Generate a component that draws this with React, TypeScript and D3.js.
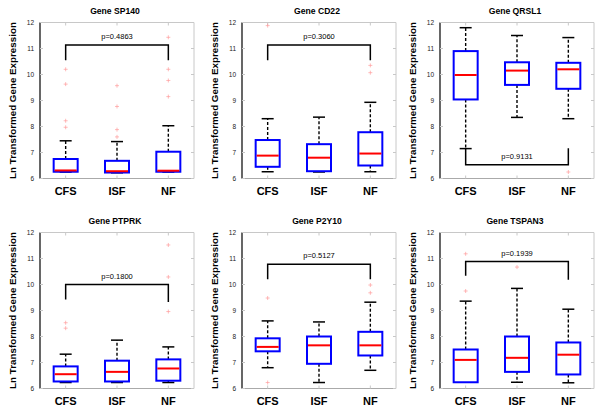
import React from "react";
import * as d3 from "d3";

// ---- data ----
const groups = ["CFS", "ISF", "NF"];
const genes = ["SP140", "CD22", "QRSL1", "PTPRK", "P2Y10", "TSPAN3"];
const yTicks = [6, 7, 8, 9, 10, 11, 12];

// [min, q1, median, q3, max] per group
const sp140Stats = [[6.25, 6.26, 6.31, 6.75, 7.45], [6.22, 6.23, 6.28, 6.68, 7.42], [6.25, 6.26, 6.3, 7.03, 8.03]];
const sp140Outliers = [[10.2, 9.63, 8.22, 7.97], [9.57, 8.77, 7.88, 7.6], [11.43, 10.2, 9.77, 9.15]];
const cd22Stats = [[6.26, 6.45, 6.88, 7.48, 8.3], [6.25, 6.28, 6.8, 7.32, 8.36], [6.26, 6.5, 6.96, 7.78, 8.93]];
const cd22Outliers = [[11.88], [], [10.35, 10.07]];
const qrsl1Stats = [[7.15, 9.04, 9.98, 10.9, 11.8], [8.35, 9.6, 10.15, 10.47, 11.5], [8.3, 9.45, 10.2, 10.45, 11.42]];
const qrsl1Outliers = [[], [], [6.25]];
const ptprkStats = [[6.23, 6.27, 6.55, 6.85, 7.32], [6.23, 6.27, 6.64, 7.07, 7.86], [6.23, 6.3, 6.77, 7.12, 7.6]];
const ptprkOutliers = [[8.53, 8.32], [], [11.52, 10.29, 8.96]];
const p2y10Stats = [[6.8, 7.43, 7.6, 7.93, 8.6], [6.23, 6.95, 7.66, 8.0, 8.56], [6.7, 7.27, 7.66, 8.18, 9.32]];
const p2y10Outliers = [[9.48, 6.23], [], [9.98, 9.68]];
const tspan3Stats = [[6.24, 6.24, 7.1, 7.5, 9.36], [6.24, 6.64, 7.18, 8.0, 9.85], [6.22, 6.54, 7.3, 7.77, 9.05]];
const tspan3Outliers = [[11.18, 9.75], [10.67], []];

const pValues = ["p=0.4863", "p=0.3060", "p=0.9131", "p=0.1800", "p=0.5127", "p=0.1939"];
// bracket horizontal level and leg ends (CFS, NF)
const bracketLevel = [11.13, 11.13, 6.53, 10.0, 10.78, 10.88];
const bracketLegEnds = [[10.55, 10.55], [10.55, 10.55], [7.16, 7.16], [9.42, 9.33], [10.2, 10.2], [10.34, 10.18]];

const allStats = [sp140Stats, cd22Stats, qrsl1Stats, ptprkStats, p2y10Stats, tspan3Stats];
const allOutliers = [sp140Outliers, cd22Outliers, qrsl1Outliers, ptprkOutliers, p2y10Outliers, tspan3Outliers];

// ---- layout ----
const W = 600, H = 410;
const colOffsets = [0, 202, 400];
const rowTops = [22.5, 232.5];
const plotLeft = 40, plotW = 154, plotH = 156;
const FONT = "Liberation Sans, Arial, Helvetica, sans-serif";

function Panel({ idx }: { idx: number }) {
  const col = idx % 3, row = Math.floor(idx / 3);
  const ox = colOffsets[col];
  const top = rowTops[row];
  const x0 = ox + plotLeft, x1 = x0 + plotW;
  const y = d3.scaleLinear().domain([6, 12]).range([top + plotH, top]);
  const x = d3.scaleBand().domain(groups).range([x0, x1]);
  const bw = 24, cap = 12;
  const stats = allStats[idx];
  const outs = allOutliers[idx];
  const cx = (g: string) => (x(g) as number) + x.bandwidth() / 2;
  const bl = bracketLevel[idx];
  const legs = bracketLegEnds[idx];
  const xa = cx("CFS"), xb = cx("NF");
  const by = y(bl);
  const grey = "#c8c8c8";
  return (
    <g>
      {/* frame */}
      <line x1={x0} x2={x1} y1={top} y2={top} stroke={grey} strokeWidth={1} />
      <line x1={x1} x2={x1} y1={top} y2={top + plotH} stroke={grey} strokeWidth={1} />
      <line x1={x0} x2={x1} y1={top + plotH} y2={top + plotH} stroke="#aaa" strokeWidth={1} />
      <line x1={x0} x2={x0} y1={top} y2={top + plotH} stroke="#000" strokeWidth={1.2} />
      {yTicks.map((t) => (
        <g key={t}>
          <line x1={x0} x2={x0 + 3} y1={y(t)} y2={y(t)} stroke={grey} />
          <line x1={x1} x2={x1 - 3} y1={y(t)} y2={y(t)} stroke={grey} />
          <text x={x0 - 6} y={y(t)} dy="0.35em" textAnchor="end" fontSize={6.5} fontFamily={FONT} fill="#222">
            {t}
          </text>
        </g>
      ))}
      {groups.map((g) => (
        <g key={g}>
          <line x1={cx(g)} x2={cx(g)} y1={top} y2={top + 3} stroke={grey} />
          <line x1={cx(g)} x2={cx(g)} y1={top + plotH} y2={top + plotH - 3} stroke={grey} />
          <text x={cx(g)} y={top + plotH + 16} textAnchor="middle" fontSize={11} fontWeight="bold" fontFamily={FONT} fill="#000">
            {g}
          </text>
        </g>
      ))}
      {/* title */}
      <text x={(x0 + x1) / 2 - 2} y={top - 9} textAnchor="middle" fontSize={8.6} fontWeight="bold" fontFamily={FONT} fill="#000">
        {"Gene " + genes[idx]}
      </text>
      {/* y label */}
      <text
        transform={`translate(${ox + 12.5},${top + plotH / 2}) rotate(-90)`}
        textAnchor="middle"
        dominantBaseline="central"
        fontSize={9.8}
        fontWeight="bold"
        fontFamily={FONT}
        fill="#000"
      >
        Ln Transformed Gene Expression
      </text>
      {/* boxes */}
      {groups.map((g, i) => {
        const [mn, q1, md, q3, mx] = stats[i];
        const c = cx(g);
        return (
          <g key={g}>
            <line x1={c} x2={c} y1={y(q3)} y2={y(mx)} stroke="#000" strokeWidth={1.4} strokeDasharray="3,2" />
            <line x1={c} x2={c} y1={y(q1)} y2={y(mn)} stroke="#000" strokeWidth={1.4} strokeDasharray="3,2" />
            <line x1={c - cap / 2} x2={c + cap / 2} y1={y(mx)} y2={y(mx)} stroke="#000" strokeWidth={1.5} />
            <line x1={c - cap / 2} x2={c + cap / 2} y1={y(mn)} y2={y(mn)} stroke="#000" strokeWidth={1.5} />
            <rect x={c - bw / 2} y={y(q3)} width={bw} height={y(q1) - y(q3)} fill="#fff" stroke="#0000ff" strokeWidth={2} />
            <line x1={c - bw / 2 + 1} x2={c + bw / 2 - 1} y1={y(md)} y2={y(md)} stroke="#ff0000" strokeWidth={2} />
            {outs[i].map((v, k) => (
              <g key={k} stroke="#ff9c9c" strokeWidth={0.7}>
                <line x1={c - 2} x2={c + 2} y1={y(v)} y2={y(v)} />
                <line x1={c} x2={c} y1={y(v) - 2} y2={y(v) + 2} />
              </g>
            ))}
          </g>
        );
      })}
      {/* bracket */}
      <path
        d={`M${xa},${y(legs[0])}V${by}H${xb}V${y(legs[1])}`}
        fill="none"
        stroke="#000"
        strokeWidth={1.5}
      />
      <text x={(xa + xb) / 2} y={by - 6} textAnchor="middle" fontSize={7.5} fontFamily={FONT} fill="#000">
        {pValues[idx]}
      </text>
    </g>
  );
}

export default function App() {
  return (
    <svg width={W} height={H} style={{ display: "block", position: "absolute", left: 0, top: 0, background: "#fff" }}>
      <rect width={W} height={H} fill="#fff" />
      {genes.map((g, i) => (
        <Panel key={g} idx={i} />
      ))}
    </svg>
  );
}
